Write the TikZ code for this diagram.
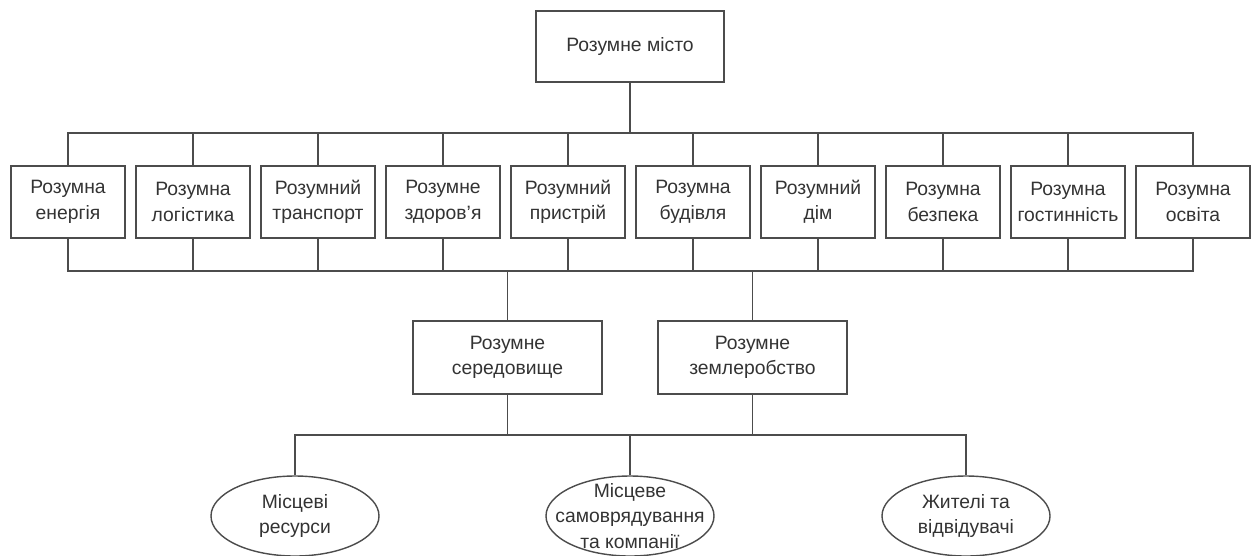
\documentclass[tikz,border=0pt]{standalone}
\usepackage{fontspec}
\setmainfont{Liberation Sans}
\usetikzlibrary{shapes.geometric}
\newcommand\linecol{black!70}

\begin{document}
\begin{tikzpicture}[
    box/.style={draw=\linecol,line width=0.8pt,align=center,text=black!80,inner sep=1pt,
      font=\fontsize{11}{14.5}\selectfont},
    topbox/.style={box,minimum width=3.76cm,minimum height=1.42cm},
    areabox/.style={box,minimum width=2.28cm,minimum height=1.44cm},
    midbox/.style={box,minimum width=3.78cm,minimum height=1.46cm},
    actor/.style={box,ellipse,minimum width=3.36cm,minimum height=1.6cm,
      inner xsep=-0.6cm,inner ysep=-0.4cm},
    link/.style={draw=\linecol,line width=0.8pt}]
    \useasboundingbox (0,0) rectangle (25.08,-11.1);
    \node (city) at (12.6,-0.93) [topbox] {Розумне місто}; % top
    % row of areas
    \node (a1) at (1.36,-4.04) [areabox] {Розумна\\енергія};
    \node (a2) at (3.86,-4.04) [areabox] {Розумна\\логістика};
    \node (a3) at (6.36,-4.04) [areabox] {Розумний\\транспорт};
    \node (a4) at (8.86,-4.04) [areabox] {Розумне\\здоров'я};
    \node (a5) at (11.36,-4.04) [areabox] {Розумний\\пристрій};
    \node (a6) at (13.86,-4.04) [areabox] {Розумна\\будівля};
    \node (a7) at (16.36,-4.04) [areabox] {Розумний\\дім};
    \node (a8) at (18.86,-4.04) [areabox] {Розумна\\безпека};
    \node (a9) at (21.36,-4.04) [areabox] {Розумна\\гостинність};
    \node (a10) at (23.86,-4.04) [areabox] {Розумна\\освіта};
    % middle
    \node (env) at (10.15,-7.15) [midbox] {Розумне\\середовище};
    \node (farm) at (15.05,-7.15) [midbox] {Розумне\\землеробство};
    % bottom
    \node (res) at (5.9,-10.32) [actor] {Місцеві\\ресурси};
    \node (gov) at (12.6,-10.32) [actor] {Місцеве\\самоврядування\\та компанії};
    \node (ppl) at (19.32,-10.32) [actor] {Жителі та\\відвідувачі};
    % buses
    \coordinate (b1) at (12.6,-2.66);
    \coordinate (b2) at (12.6,-5.42);
    \coordinate (b3) at (12.6,-8.7);
    \draw[link] (city) -- (b1);
    \foreach \i in {1,...,10} {
      \draw[link] (a\i.north) |- (b1);
      \draw[link] (a\i.south) |- (b2);
    }
    \draw[link] (env.north) |- (b2) (farm.north) |- (b2);
    \draw[link] (env.south) |- (b3) (farm.south) |- (b3);
    \draw[link] (res.north) |- (b3) (gov.north) |- (b3) (ppl.north) |- (b3);
  \end{tikzpicture}
\end{document}
